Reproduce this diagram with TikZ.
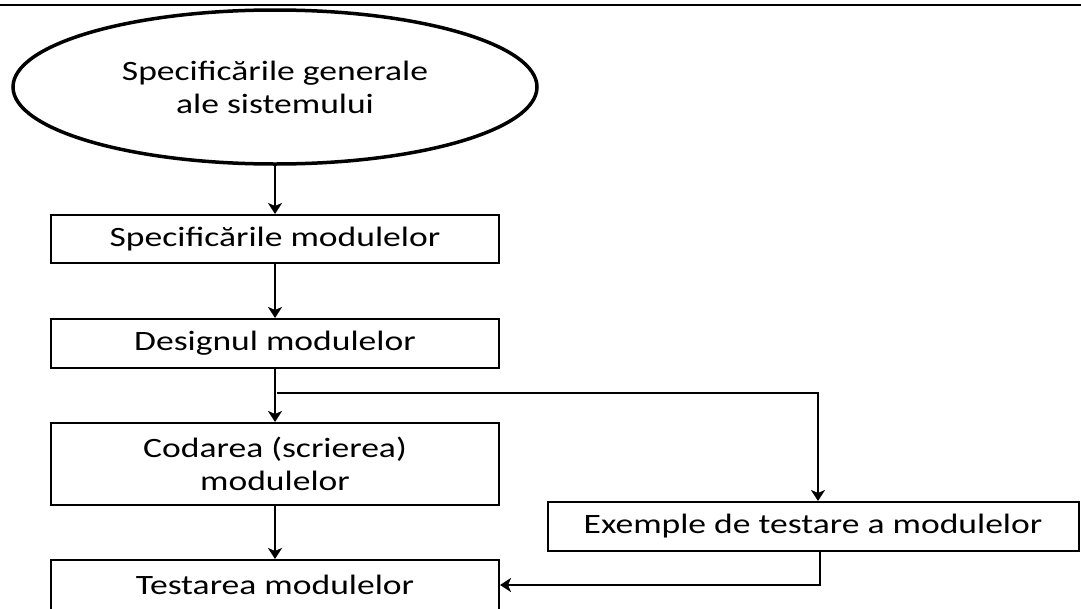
\documentclass[tikz,border=0pt]{standalone}
\usepackage{fontspec}
\setmainfont{Carlito}[FakeStretch=1.27]
\usetikzlibrary{arrows.meta,shapes.geometric}
\begin{document}
\begin{tikzpicture}[x=1pt,y=-1pt,
  every node/.style={font=\fontsize{28}{33}\selectfont, align=center, inner sep=0pt},
  stepbox/.style={draw, line width=2pt, minimum width=448pt},
  bigoval/.style={draw, ellipse, line width=3.5pt, minimum width=524pt, minimum height=154pt},
  arr/.style={line width=2pt, -{Stealth[length=11pt,width=14pt,inset=3pt]}}
]
\useasboundingbox (0,0) rectangle (1081,608);
\clip (0,0) rectangle (1081,608);

% frame rule at the top
\draw[line width=2.5pt] (0,5) -- (1081,5);

% system specification
\node[bigoval] (ell) at (275,87) {Specificările generale\\ale sistemului};

% module pipeline
\node[stepbox, minimum height=48pt] (b1) at (275,239) {Specificările modulelor};
\node[stepbox, minimum height=49pt] (b2) at (275,343.5) {Designul modulelor};
\node[stepbox, minimum height=82pt] (b3) at (275,464) {Codarea (scrierea)\\modulelor};
\node[stepbox, minimum height=50pt] (b4) at (275,585) {Testarea modulelor};

% test examples
\node[stepbox, minimum width=531pt, minimum height=49pt] (b5) at (813,526.5) {Exemple de testare a modulelor};

\draw[arr] (ell) -- (b1);
\draw[arr] (b1) -- (b2);
\draw[arr] (b2) -- (b3);
\draw[arr] (b3) -- (b4);

\coordinate (br) at (277,393);
\draw[arr] (br) -| ([xshift=5pt]b5.north);
\draw[arr] ([xshift=7pt]b5.south) |- (b4.east);
\end{tikzpicture}
\end{document}
